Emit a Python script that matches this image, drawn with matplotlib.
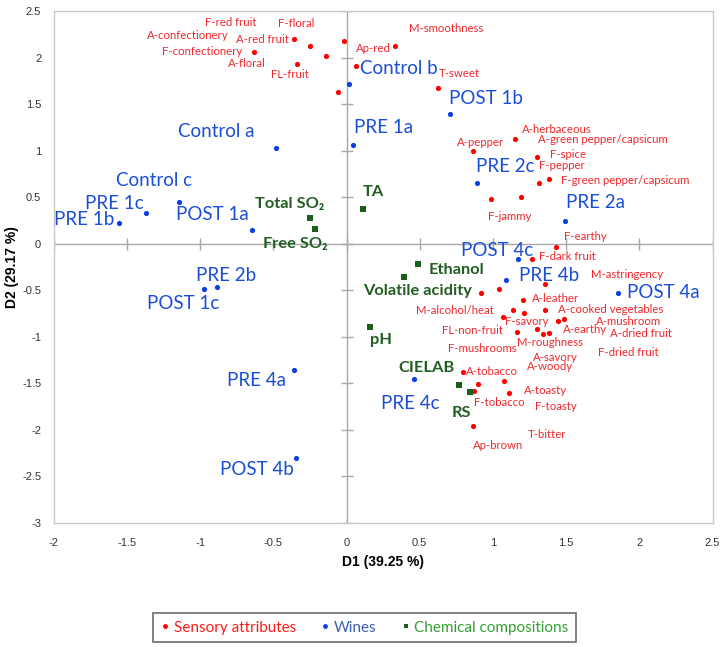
import numpy as np
import matplotlib
matplotlib.use("Agg")
import matplotlib.pyplot as plt
from matplotlib.lines import Line2D

# sensory attributes (red)
sensory_names = ["A-red fruit", "F-red fruit", "A-confectionery", "F-floral", "F-confectionery",
                 "A-floral", "FL-fruit", "Ap-red", "M-smoothness", "T-sweet",
                 "A-pepper", "A-herbaceous", "A-green pepper/capsicum", "F-spice", "F-pepper",
                 "F-green pepper/capsicum", "F-jammy",
                 "F-earthy", "F-dark fruit", "M-astringency", "A-woody", "A-savory", "A-leather",
                 "F-savory", "F-mushrooms", "A-cooked vegetables", "M-alcohol/heat", "A-earthy",
                 "A-mushroom", "FL-non-fruit", "F-dried fruit", "M-roughness", "A-dried fruit",
                 "A-tobacco", "T-bitter", "F-tobacco", "A-toasty", "F-toasty", "Ap-brown"]
sensory_d1 = [-0.357, -0.249, -0.140, -0.015, -0.630, -0.340, -0.056, 0.063, 0.331, 0.623,
              0.866, 1.149, 1.190, 1.299, 1.317, 1.381, 0.987,
              1.431, 1.265, 1.358, 0.919, 1.042, 1.206, 1.137, 1.212, 1.358, 1.071, 1.447,
              1.486, 1.161, 1.303, 1.340, 1.385,
              0.794, 0.900, 0.873, 1.074, 1.108, 0.866]
sensory_d2 = [2.196, 2.127, 2.016, 2.181, 2.062, 1.927, 1.625, 1.912, 2.127, 1.668,
              0.994, 1.123, 0.495, 0.932, 0.652, 0.689, 0.477,
              -0.037, -0.169, -0.438, -0.532, -0.484, -0.603, -0.718, -0.747, -0.718, -0.790, -0.833,
              -0.807, -0.949, -0.919, -0.969, -0.962,
              -1.382, -1.515, -1.587, -1.482, -1.608, -1.959]

# wines (blue)
wine_names = ["Control a", "Control b", "Control c", "PRE 1a", "PRE 1b", "PRE 1c",
              "POST 1a", "POST 1b", "POST 1c", "PRE 2a", "PRE 2b", "PRE 2c",
              "PRE 4a", "PRE 4b", "PRE 4c", "POST 4a", "POST 4b", "POST 4c"]
wine_d1 = [-0.482, 0.019, -1.142, 0.046, -1.554, -1.372, -0.643, 0.707, -0.971,
           1.495, -0.882, 0.889, -0.361, 1.089, 0.459, 1.857, -0.343, 1.169]
wine_d2 = [1.029, 1.711, 0.448, 1.058, 0.222, 0.329, 0.143, 1.392, -0.492,
           0.243, -0.467, 0.652, -1.356, -0.395, -1.457, -0.532, -2.308, -0.169]

# chemical compositions (green)
chem_names = ["Total SO\u2082", "Free SO\u2082", "TA", "Ethanol", "Volatile acidity",
              "pH", "CIELAB", "RS"]
chem_d1 = [-0.249, -0.215, 0.115, 0.490, 0.393, 0.161, 0.771, 0.846]
chem_d2 = [0.276, 0.154, 0.369, -0.215, -0.360, -0.893, -1.518, -1.593]

# label offsets in pixels (dx right, dy up)
sensory_off = [(-32, 0), (-79, 23), (-138, 21), (-48, 17), (-52, 0),
               (-50, 1), (-48, 18), (18, 17), (51, 17), (22, 15),
               (7, 9), (42, 10), (82, 58), (31, 2), (23, 17),
               (76, -1), (19, -17),
               (29, 10), (36, 3), (82, 10), (69, -74), (56, -69), (32, 1),
               (14, -11), (-42, -36), (65, 1), (-48, 6), (27, -9),
               (64, -3), (-44, 1), (91, -24), (7, -9), (92, -1),
               (29, 1), (69, -50), (25, -11), (42, -9), (47, -13), (25, -20)]
wine_off = [(-60, 16), (49, 16), (-25, 21), (30, 18), (-35, 3), (-31, 9),
            (-40, 16), (36, 16), (-21, -14), (30, 18), (9, 11), (29, 16),
            (-37, -11), (43, 5), (-3, -24), (45, 0), (-39, -11), (-21, 9)]
chem_off = [(-20, 14), (-20, -15), (10, 17), (38, -6), (13, -14),
            (11, -13), (-33, 17), (-9, -21)]

red = "#ff0000"
red_txt = "#f0282d"
blue = "#0a3ee6"
blue_txt = "#1a4dd8"
green = "#1b5e1b"
green_txt = "#235d23"

fig = plt.figure(figsize=(7.28, 6.47), dpi=100)
ax = fig.add_axes([0.0738, 0.1924, 0.905, 0.7906])
ax.set_xlim(-2, 2.5)
ax.set_ylim(-3, 2.5)

for s in ax.spines.values():
    s.set_color("#c8c8c8")
    s.set_linewidth(1)

ax.axhline(0, color="#a8a8a8", lw=1, zorder=1)
ax.axvline(0, color="#a8a8a8", lw=1, zorder=1)
yt = np.arange(-3, 2.51, 0.5)
xt = np.arange(-2, 2.51, 0.5)
ax.plot(np.zeros_like(yt), yt, ls="none", marker="_", ms=8, color="#a8a8a8", mew=1, zorder=1)
ax.plot(xt, np.zeros_like(xt), ls="none", marker="|", ms=8, color="#a8a8a8", mew=1, zorder=1)

ax.set_xticks(xt)
ax.set_yticks(yt)
ax.set_xticklabels([f"{v:g}" for v in xt])
ax.set_yticklabels([f"{v:g}" for v in yt])
ax.tick_params(length=0, labelsize=8, colors="#333333")
ax.tick_params(axis="y", pad=9)
ax.tick_params(axis="x", pad=11)
for lab in ax.get_xticklabels() + ax.get_yticklabels():
    lab.set_family("Liberation Sans")

ax.set_xlabel("D1 (39.25 %)", fontsize=10, fontweight="bold", family="Liberation Sans", labelpad=5)
ax.set_ylabel("D2 (29.17 %)", fontsize=10, fontweight="bold", family="Liberation Sans", va="center")
ax.yaxis.set_label_coords(-0.063, 0.5)

ax.scatter(sensory_d1, sensory_d2, s=14, color=red, zorder=3, linewidths=0)
ax.scatter(wine_d1, wine_d2, s=14, color=blue, zorder=3, linewidths=0)
ax.scatter(chem_d1, chem_d2, s=17, color=green, marker="s", zorder=3, linewidths=0)

fam = ["Lato", "DejaVu Sans"]
for n, x, y, o in zip(sensory_names, sensory_d1, sensory_d2, sensory_off):
    ax.annotate(n, (x, y), xytext=o, textcoords="offset pixels", ha="center", va="center",
                fontsize=8.2, color=red_txt, family=fam)
for n, x, y, o in zip(wine_names, wine_d1, wine_d2, wine_off):
    ax.annotate(n, (x, y), xytext=o, textcoords="offset pixels", ha="center", va="center",
                fontsize=13.5, color=blue_txt, family=fam)
for n, x, y, o in zip(chem_names, chem_d1, chem_d2, chem_off):
    ax.annotate(n, (x, y), xytext=o, textcoords="offset pixels", ha="center", va="center",
                fontsize=11.8, fontweight="bold", color=green_txt, family=fam)

handles = [Line2D([], [], ls="none", marker="o", ms=3.5, color=red, mew=0),
           Line2D([], [], ls="none", marker="o", ms=3.5, color=blue, mew=0),
           Line2D([], [], ls="none", marker="s", ms=3.5, color=green, mew=0)]
leg = fig.legend(handles, ["Sensory attributes", "Wines", "Chemical compositions"],
                 loc="center", bbox_to_anchor=(0.501, 0.0298), ncol=3, frameon=True,
                 fancybox=False, edgecolor="#555555", handletextpad=0.27, columnspacing=1.6,
                 handlelength=0.6, borderpad=0.5, borderaxespad=0,
                 prop={"family": "Lato", "size": 11},
                 labelcolor=["#ff1a1a", "#3a5fb0", "#33a033"])
leg.get_frame().set_linewidth(1.3)

fig.savefig("out.png", dpi=100)
